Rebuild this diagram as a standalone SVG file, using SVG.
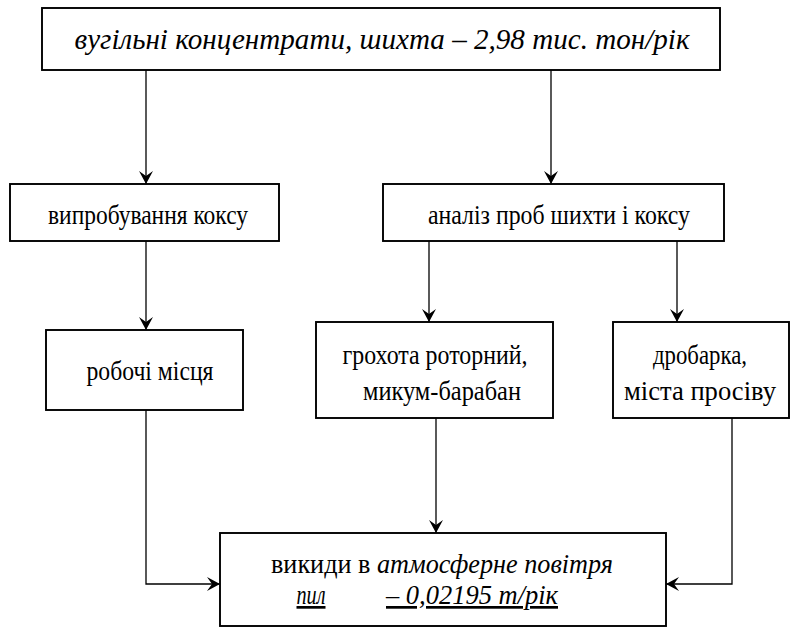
<svg xmlns="http://www.w3.org/2000/svg" width="795" height="630" viewBox="0 0 795 630">
<defs>
<marker id="arr" markerWidth="14" markerHeight="16" refX="13" refY="8" orient="auto" markerUnits="userSpaceOnUse">
<path d="M13,8 L0,1 L5,8 L0,15 Z" fill="#000"/>
</marker>
<style>
.box{fill:#fff;stroke:#000;stroke-width:1.9}
.t{font-family:"Liberation Serif","Times New Roman",serif;font-size:27px;fill:#000;text-anchor:middle}
.i{font-style:italic}
.c{fill:none;stroke:#000;stroke-width:1.3}
</style>
</defs>
<rect width="795" height="630" fill="#fff"/>
<g id="connectors">
<line class="c" x1="146" y1="70" x2="146" y2="184" marker-end="url(#arr)"/>
<line class="c" x1="551" y1="70" x2="551" y2="184" marker-end="url(#arr)"/>
<line class="c" x1="146" y1="241" x2="146" y2="330" marker-end="url(#arr)"/>
<line class="c" x1="429" y1="241" x2="429" y2="322" marker-end="url(#arr)"/>
<line class="c" x1="677" y1="241" x2="677" y2="322" marker-end="url(#arr)"/>
<line class="c" x1="436" y1="418" x2="436" y2="533" marker-end="url(#arr)"/>
<polyline class="c" points="146,410 146,584 220,584" marker-end="url(#arr)"/>
<polyline class="c" points="732,418 732,584 666,584" marker-end="url(#arr)"/>
</g>
<g id="n1">
<rect class="box" x="42" y="8" width="678" height="62"/>
<text class="t i" x="382" y="49" textLength="615" lengthAdjust="spacingAndGlyphs" style="font-size:29px">вугільні концентрати, шихта  – 2,98 тис. тон/рік</text>
</g>
<g id="n2">
<rect class="box" x="10" y="184" width="269" height="57"/>
<text class="t" x="148" y="224" textLength="200" lengthAdjust="spacingAndGlyphs">випробування коксу</text>
</g>
<g id="n3">
<rect class="box" x="383" y="184" width="341" height="57"/>
<text class="t" x="559" y="224" textLength="262" lengthAdjust="spacingAndGlyphs">аналіз проб шихти і коксу</text>
</g>
<g id="n4">
<rect class="box" x="46" y="330" width="197" height="80"/>
<text class="t" x="150" y="380" textLength="127" lengthAdjust="spacingAndGlyphs">робочі місця</text>
</g>
<g id="n5">
<rect class="box" x="316" y="322" width="237" height="96"/>
<text class="t" x="435" y="364" textLength="185" lengthAdjust="spacingAndGlyphs">грохота роторний,</text>
<text class="t" x="442" y="400" textLength="158" lengthAdjust="spacingAndGlyphs">микум-барабан</text>
</g>
<g id="n6">
<rect class="box" x="613" y="322" width="176" height="96"/>
<text class="t" x="700" y="364" textLength="94" lengthAdjust="spacingAndGlyphs">дробарка,</text>
<text class="t" x="700" y="400" textLength="152" lengthAdjust="spacingAndGlyphs">міста просіву</text>
</g>
<g id="n7">
<rect class="box" x="220" y="533" width="446" height="93"/>
<text class="t" x="442" y="573" textLength="342" lengthAdjust="spacingAndGlyphs">викиди в <tspan class="i">атмосферне повітря</tspan></text>
<text class="t i" x="311" y="604" text-decoration="underline" textLength="29" lengthAdjust="spacingAndGlyphs">пил</text>
<text class="t i" x="472" y="604" text-decoration="underline" textLength="172" lengthAdjust="spacingAndGlyphs">– 0,02195 т/рік</text>
</g>
</svg>
